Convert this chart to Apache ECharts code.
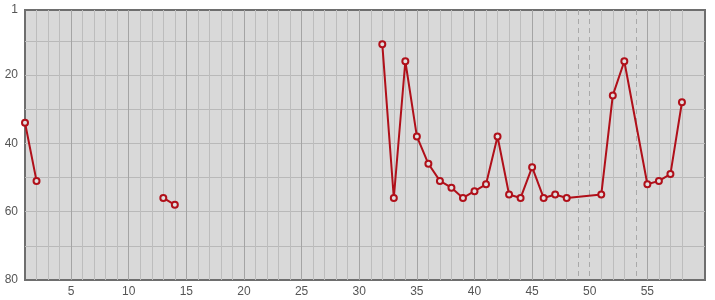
<!DOCTYPE html>
<html>
<head>
<meta charset="utf-8">
<script src="https://cdn.jsdelivr.net/npm/echarts@6/dist/echarts.min.js"></script>
<style>
html,body{margin:0;padding:0;background:#fff;}
#chart{width:715px;height:300px;}
</style>
</head>
<body>
<div id="chart"></div>
<script>
// Day index on x, rank on y (null = gap in the line)
var days  = [1, 2, 3, 13, 14, 15, 32, 33, 34, 35, 36, 37, 38, 39, 40, 41, 42, 43, 44, 45, 46, 47, 48, 51, 52, 53, 55, 56, 57, 58];
var ranks = [34, 51, null, 56, 58, null, 11, 56, 16, 38, 46, 51, 53, 56, 54, 52, 38, 55, 56, 47, 56, 55, 56, 55, 26, 16, 52, 51, 49, 28];

// Axis tick / grid values
var xLabelValues = [5, 10, 15, 20, 25, 30, 35, 40, 45, 50, 55];
var xMajorGrid   = [5, 10, 15, 20, 25, 30, 35, 40, 45, 55];
var xMinorGrid   = [2, 3, 4, 6, 7, 8, 9, 11, 12, 13, 14, 16, 17, 18, 19, 21, 22, 23, 24, 26, 27, 28, 29,
                    31, 32, 33, 34, 36, 37, 38, 39, 41, 42, 43, 44, 46, 47, 48, 51, 52, 53, 56, 57, 58];
var xDashedGrid  = [49, 50, 54];
var yLabelValues = [1, 20, 40, 60, 80];
var yGrid        = [10, 20, 30, 40, 50, 60, 70];

var seriesData = days.map(function (d, i) {
  return [d, ranks[i] === null ? '-' : ranks[i]];
});

var X_MIN = 1, X_MAX = 60;
function gridAxis(values, lineStyle) {
  return {
    type: 'value', min: X_MIN, max: X_MAX, position: 'bottom',
    axisLine: {show: false}, axisLabel: {show: false},
    axisTick: {show: false, customValues: values},
    splitLine: {show: true, lineStyle: lineStyle}
  };
}

var chart = echarts.init(document.getElementById('chart'), null, {renderer: 'canvas'});
chart.setOption({
  animation: false,
  backgroundColor: '#ffffff',
  grid: {
    left: 25, right: 10, top: 10, bottom: 20,
    show: true, backgroundColor: '#d9d9d9',
    borderColor: '#6e6e6e', borderWidth: 2
  },
  xAxis: [
    {
      type: 'value', min: X_MIN, max: X_MAX, position: 'bottom',
      axisLine: {show: false},
      axisTick: {show: false, customValues: xMajorGrid},
      axisLabel: {
        customValues: xLabelValues, margin: 6,
        color: '#555', fontSize: 12, fontFamily: 'Liberation Sans, Arial, sans-serif'
      },
      splitLine: {show: true, lineStyle: {color: '#a4a4a4', width: 1}}
    },
    gridAxis(xMinorGrid, {color: '#bdbdbd', width: 1}),
    gridAxis(xDashedGrid, {color: '#a9a9a9', width: 1, type: [5, 4]})
  ],
  yAxis: {
    type: 'value', min: 1, max: 80, inverse: true,
    axisLine: {show: false},
    axisTick: {show: false, customValues: yGrid},
    axisLabel: {
      customValues: yLabelValues, margin: 7,
      color: '#555', fontSize: 12, fontFamily: 'Liberation Sans, Arial, sans-serif'
    },
    splitLine: {show: true, lineStyle: {color: '#b9b9b9', width: 1}}
  },
  series: [{
    type: 'line',
    data: seriesData,
    connectNulls: false,
    symbol: 'circle',
    symbolSize: 6,
    lineStyle: {color: '#b0101a', width: 2},
    itemStyle: {color: '#e0e0e0', borderColor: '#b0101a', borderWidth: 2},
    z: 5
  }]
});
</script>
</body>
</html>
